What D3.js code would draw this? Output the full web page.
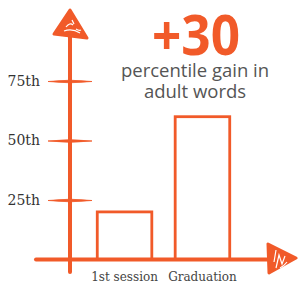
<!DOCTYPE html>
<html>
<head>
<meta charset="utf-8">
<script src="https://cdn.jsdelivr.net/npm/d3@7"></script>
<style>
  body { margin: 0; background: #fff; }
  svg { display: block; }
</style>
</head>
<body>
<script>
const categories = ["1st session", "Graduation"];
const values = [20, 60];
const tickValues = [25, 50, 75];
const tickLabels = ["25th", "50th", "75th"];
const headline = "+30";
const subtitle = ["percentile gain in", "adult words"];

const width = 298, height = 285;
const orange = "#f15a29";

const svg = d3.select("body").append("svg")
    .attr("width", width).attr("height", height);

const x = d3.scaleBand()
    .domain(categories)
    .range([70, 257])
    .paddingInner(0.3)
    .paddingOuter(0.35);

const y = d3.scaleLinear()
    .domain([0, 100])
    .range([259.5, 21.5]);

// bars
svg.selectAll("rect.bar")
    .data(values)
    .enter().append("rect")
    .attr("class", "bar")
    .attr("x", (d, i) => x(categories[i]))
    .attr("y", d => y(d))
    .attr("width", x.bandwidth())
    .attr("height", d => y(0) - y(d))
    .attr("fill", "#fff")
    .attr("stroke", orange)
    .attr("stroke-width", 2.8);

// y axis, ticks cross the line
const yAxis = svg.append("g")
    .attr("transform", "translate(70,0)")
    .call(d3.axisLeft(y).tickValues(tickValues).tickFormat((d, i) => tickLabels[i]).tickSize(22));
yAxis.select(".domain").remove();
yAxis.selectAll(".tick line").remove();
// tapered tick strokes, thicker in the middle
yAxis.selectAll(".tick").append("path")
    .attr("d", "M-22,0 Q0,-2.6 22,0 Q0,2.6 -22,0 Z")
    .attr("fill", orange)
    .attr("stroke", orange)
    .attr("stroke-width", 0.8);
yAxis.selectAll(".tick text")
    .attr("x", -30)
    .attr("dy", "0.32em")
    .attr("fill", "#333")
    .style("font-family", "'DejaVu Serif', serif")
    .style("font-size", "14px");

// x axis labels
const xAxis = svg.append("g")
    .attr("transform", `translate(0,${y(0)})`)
    .call(d3.axisBottom(x).tickSize(0).tickPadding(13));
xAxis.select(".domain").remove();
xAxis.selectAll(".tick text")
    .attr("fill", "#444")
    .style("font-family", "'DejaVu Serif', serif")
    .style("font-size", "12px");

// axis lines
svg.append("line")
    .attr("x1", 70).attr("x2", 70)
    .attr("y1", 34).attr("y2", 272)
    .attr("stroke", orange).attr("stroke-width", 4).attr("stroke-linecap", "round");
svg.append("line")
    .attr("x1", 36).attr("x2", 272)
    .attr("y1", y(0)).attr("y2", y(0))
    .attr("stroke", orange).attr("stroke-width", 4).attr("stroke-linecap", "round");

// sketchy arrowheads
const up = svg.append("g");
up.append("path")
    .attr("d", "M70,10 L54,34 L87,38 Z")
    .attr("fill", orange).attr("stroke", orange)
    .attr("stroke-width", 3).attr("stroke-linejoin", "round");
up.append("path")
    .attr("d", "M66,27 Q70,22 73,25 M64,31 Q72,28 80,33 M72,20 L74,24 M76,29 Q79,31 81,30")
    .attr("fill", "none").attr("stroke", "#fff").attr("stroke-width", 1.2);

const right = svg.append("g");
right.append("path")
    .attr("d", "M296,258 L268,244 L269,273 Z")
    .attr("fill", orange).attr("stroke", orange)
    .attr("stroke-width", 3).attr("stroke-linejoin", "round");
right.append("path")
    .attr("d", "M276,268 L279,255 L282,264 L285,256 M274,262 L276,250 M280,268 Q284,266 287,262")
    .attr("fill", "none").attr("stroke", "#fff").attr("stroke-width", 1.2);

// headline
svg.append("text")
    .attr("x", 196).attr("y", 55)
    .attr("text-anchor", "middle")
    .attr("fill", orange)
    .attr("textLength", 88)
    .attr("lengthAdjust", "spacingAndGlyphs")
    .style("font-family", "'Open Sans', sans-serif")
    .style("font-weight", 700)
    .style("font-size", "56px")
    .text(headline);

svg.selectAll("text.sub")
    .data(subtitle)
    .enter().append("text")
    .attr("class", "sub")
    .attr("x", 195)
    .attr("y", (d, i) => 77 + i * 21)
    .attr("text-anchor", "middle")
    .attr("fill", "#555")
    .style("font-family", "'Open Sans', sans-serif")
    .style("font-size", "18.5px")
    .text(d => d);
</script>
</body>
</html>
